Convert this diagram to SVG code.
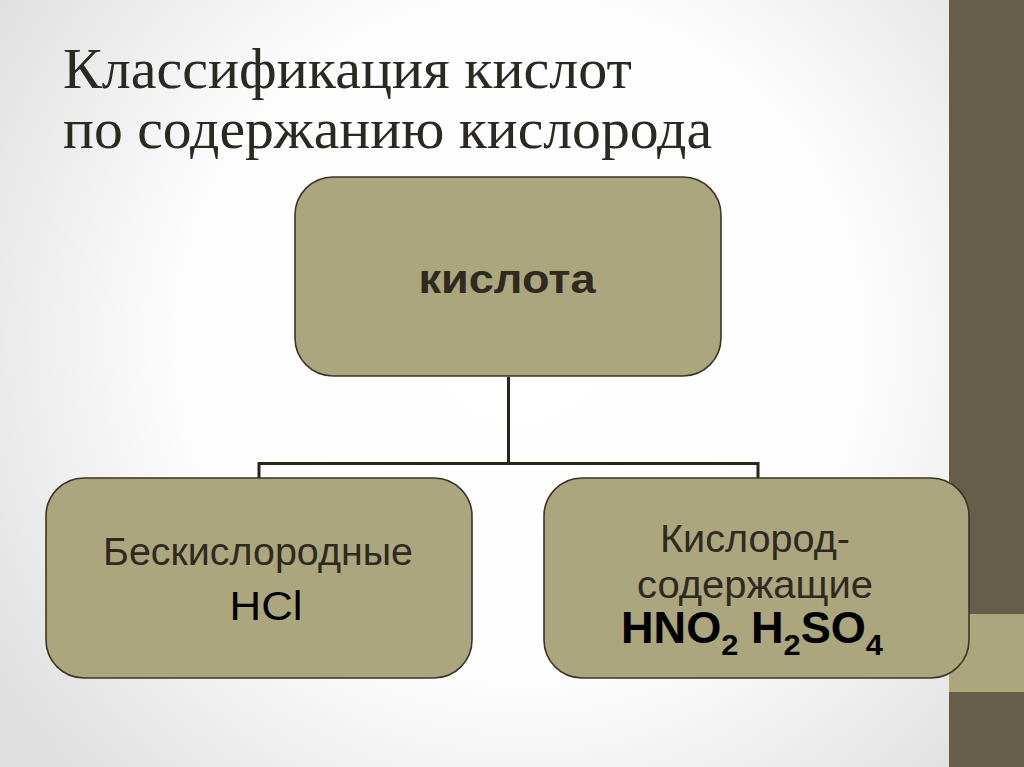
<svg xmlns="http://www.w3.org/2000/svg" width="1024" height="767" viewBox="0 0 1024 767">
<defs>
<radialGradient id="bg" cx="520" cy="340" r="620" gradientUnits="userSpaceOnUse">
<stop offset="0" stop-color="#ffffff"/>
<stop offset="0.55" stop-color="#fdfdfd"/>
<stop offset="1" stop-color="#e0e0e0"/>
</radialGradient>
<style>
.box{fill:#aba67e;stroke:#3a3526;stroke-width:1.6}
.lbl{font-family:"Liberation Sans",Arial,sans-serif;fill:#2e2a1f;text-anchor:middle}
.title{font-family:"Liberation Serif","Times New Roman",serif;fill:#2b2a22;font-size:58px}
.conn{fill:none;stroke:#2a2519;stroke-width:3}
</style>
</defs>
<rect x="0" y="0" width="1024" height="767" fill="url(#bg)"/>
<rect x="949" y="0" width="75" height="767" fill="#665e48"/>
<rect x="949" y="614" width="75" height="78" fill="#aba67e"/>
<g id="title">
<text class="title" x="63" y="88" textLength="569" lengthAdjust="spacingAndGlyphs">Классификация кислот</text>
<text class="title" x="63" y="148" textLength="649" lengthAdjust="spacingAndGlyphs">по содержанию кислорода</text>
</g>
<g id="connectors">
<path class="conn" d="M508.5 377 V463.5 M259 478 V463.5 H758 V478"/>
</g>
<g id="node-acid">
<rect class="box" x="295" y="177" width="426" height="199" rx="38"/>
<text class="lbl" x="507" y="293" font-size="41" font-weight="bold" textLength="177" lengthAdjust="spacingAndGlyphs">кислота</text>
</g>
<g id="node-oxygenfree">
<rect class="box" x="46" y="478" width="426" height="200" rx="38"/>
<text class="lbl" x="258" y="565" font-size="39" textLength="310" lengthAdjust="spacingAndGlyphs">Бескислородные</text>
<text class="lbl" x="266" y="620" font-size="40" style="fill:#000" textLength="73" lengthAdjust="spacingAndGlyphs">HCl</text>
</g>
<g id="node-oxygen">
<rect class="box" x="544" y="478" width="425" height="200" rx="38"/>
<text class="lbl" x="755" y="552" font-size="39" textLength="190" lengthAdjust="spacingAndGlyphs">Кислород-</text>
<text class="lbl" x="755" y="598" font-size="39" textLength="236" lengthAdjust="spacingAndGlyphs">содержащие</text>
<text font-family="Liberation Sans,Arial,sans-serif" font-weight="bold" font-size="44" fill="#000" x="621" y="643" textLength="262" lengthAdjust="spacingAndGlyphs">HNO<tspan font-size="30" dy="12">2</tspan><tspan dy="-12"> H</tspan><tspan font-size="30" dy="12">2</tspan><tspan dy="-12">SO</tspan><tspan font-size="30" dy="12">4</tspan></text>
</g>
</svg>
